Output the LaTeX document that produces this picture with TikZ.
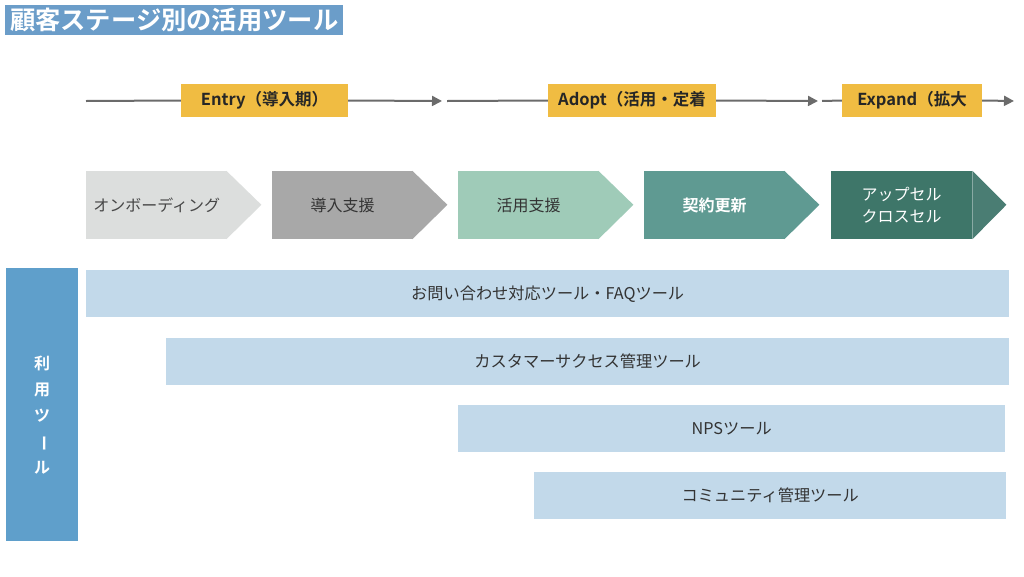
\documentclass[tikz,border=0pt]{standalone}
\usepackage{fontspec}
\setmainfont{Noto Sans CJK JP}[BoldFont={Noto Sans CJK JP Bold}]
\usepackage{graphicx}
\usetikzlibrary{arrows.meta}
\usetikzlibrary{positioning}
\definecolor{titleblue}{HTML}{6B9DC9}
\definecolor{stageyellow}{HTML}{F0BC42}
\definecolor{linegray}{HTML}{6B6B6B}
\definecolor{chevA}{HTML}{DCDEDD}
\definecolor{chevB}{HTML}{A8A8A8}
\definecolor{chevC}{HTML}{9FCBB8}
\definecolor{chevD}{HTML}{5F9A92}
\definecolor{chevE}{HTML}{3E7669}
\definecolor{chevEtip}{HTML}{4A7D73}
\definecolor{usebarblue}{HTML}{5F9FCB}
\definecolor{toolblue}{HTML}{C2D9EA}
\definecolor{textdark}{HTML}{333333}

\begin{document}
\begin{tikzpicture}[x=1pt,y=-1pt,
	stage/.style={fill=stageyellow, minimum width=#1, minimum height=33pt, inner sep=0pt, font=\fontsize{16.5}{16.5}\selectfont\bfseries, text=black!85},
	chevbody/.style={minimum width=141pt, minimum height=68pt, inner sep=0pt, anchor=west, font=\fontsize{16}{22}\selectfont, align=center},
	toolbar/.style={fill=toolblue, minimum height=47pt, inner sep=0pt, anchor=north west, font=\fontsize{16.2}{16.2}\selectfont, text=textdark},
	timeline/.style={draw=linegray, line width=2pt}]
	\useasboundingbox (0,0) rectangle (1024,576);
	%title
	\node[fill=titleblue, anchor=north west, minimum width=338pt, minimum height=30pt, inner sep=0pt, text=white, font=\fontsize{25.3}{25.3}\selectfont\bfseries] (title) at (5,5) {顧客ステージ別の活用ツール};
	%stage labels
	\node[stage=167pt] (entry) at (264.5,100.5) {Entry（導入期）};
	\node[stage=168pt] (adopt) at (632,100.5) {Adopt（活用・定着};
	\node[stage=140pt] (expand) at (912,100.5) {Expand（拡大};
	\coordinate (startA) at (86,101);
	\coordinate (endA) at (442,101);
	\coordinate (startB) at (447,101);
	\coordinate (endB) at (818,101);
	\coordinate (startC) at (822,101);
	\coordinate (endC) at (1014,101);
	%draw time line
	\draw[timeline] (startA) -- (entry.west);
	\draw[timeline, -{Triangle[length=10pt,width=10pt]}] (entry.east) -- (endA);
	\draw[timeline] (startB) -- (adopt.west);
	\draw[timeline, -{Triangle[length=10pt,width=10pt]}] (adopt.east) -- (endB);
	\draw[timeline] (startC) -- (expand.west);
	\draw[timeline, -{Triangle[length=10pt,width=10pt]}] (expand.east) -- (endC);
	%chevrons
	\node[chevbody, fill=chevA, text=textdark!90] (onboard) at (86,205) {オンボーディング};
	\node[chevbody, fill=chevB, text=textdark] (intro) at (272,205) {導入支援};
	\node[chevbody, fill=chevC, text=textdark] (utilize) at (458,205) {活用支援};
	\node[chevbody, fill=chevD, text=white, font=\fontsize{16}{22}\selectfont\bfseries] (renew) at (644,205) {契約更新};
	\node[chevbody, fill=chevE, text=white] (upsell) at (831,205) {アップセル\\クロスセル};
	\fill[chevA] ([xshift=-1pt]onboard.north east) -- ++(35,34) -- ([xshift=-1pt]onboard.south east) -- cycle;
	\fill[chevB] ([xshift=-1pt]intro.north east) -- ++(35,34) -- ([xshift=-1pt]intro.south east) -- cycle;
	\fill[chevC] ([xshift=-1pt]utilize.north east) -- ++(35,34) -- ([xshift=-1pt]utilize.south east) -- cycle;
	\fill[chevD] ([xshift=-1pt]renew.north east) -- ++(35,34) -- ([xshift=-1pt]renew.south east) -- cycle;
	\fill[chevEtip] (upsell.north east) -- ++(34,34) -- (upsell.south east) -- cycle;
	%tools
	\node[fill=usebarblue, anchor=north west, minimum width=72pt, minimum height=273pt, inner sep=0pt] (usebar) at (6,268) {};
	\node[text=white, align=center, font=\fontsize{16}{26}\selectfont\bfseries] (usetext) at ([yshift=-10pt]usebar.center) {利\\用\\ツ\\\rotatebox[origin=c]{-90}{ー}\\ル};
	\node[toolbar, minimum width=923pt] (faq) at (86,270) {お問い合わせ対応ツール・FAQツール};
	\node[toolbar, minimum width=843pt] (csm) at (166,338) {カスタマーサクセス管理ツール};
	\node[toolbar, minimum width=547pt] (nps) at (458,405) {NPSツール};
	\node[toolbar, minimum width=472pt] (community) at (534,472) {コミュニティ管理ツール};
\end{tikzpicture}
\end{document}
